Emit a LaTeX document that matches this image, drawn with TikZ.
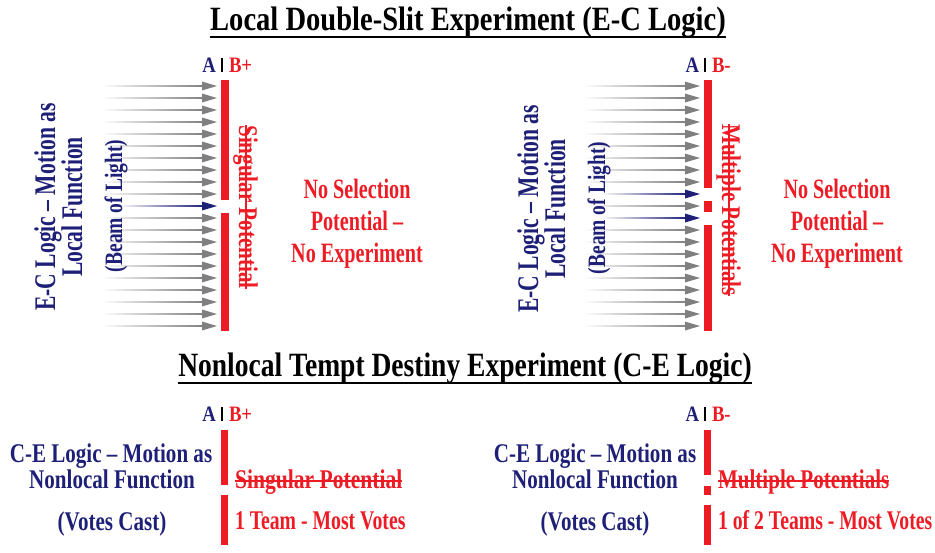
\documentclass[tikz,border=0pt]{standalone}
\usepackage{fontspec}
\setmainfont{Liberation Serif}[BoldFont={Liberation Serif Bold}]
\usepackage{graphicx}
\definecolor{navy}{RGB}{30,32,120}
\definecolor{bred}{RGB}{237,28,36}
\definecolor{agray}{RGB}{128,128,128}
\newcommand\tx[3]{{\fontsize{#1}{#1}\selectfont\bfseries\scalebox{#2}[1]{#3}}}
\newcommand\strk[1]{\setbox0\hbox{#1}\leavevmode\rlap{\rule[0.23em]{\wd0}{1.6pt}}\box0}
\newcommand\beam[4]{%
  \shade[left color=white,right color=#4] (#1,#3-0.8) rectangle (#2-13,#3+0.8);
  \fill[#4] (#2,#3) -- (#2-15,#3-4.5) -- (#2-15,#3+4.5) -- cycle;}
\tikzset{lbl/.style={inner sep=0pt,outer sep=0pt},
  redbar/.style={fill=bred,draw=none},
  sep/.style={line width=1.3pt,black}}
\begin{document}
\begin{tikzpicture}[x=1pt,y=-1pt]
\useasboundingbox (0,0) rectangle (935,552);
% titles
\node[lbl,anchor=base] (t1) at (468,30) {\tx{34}{0.84}{Local Double-Slit Experiment (E-C Logic)}};
\draw[line width=2pt] ([yshift=-7pt]t1.base west) -- ([yshift=-7pt]t1.base east);
\node[lbl,anchor=base] (t2) at (465,376) {\tx{34}{0.81}{Nonlocal Tempt Destiny Experiment (C-E Logic)}};
\draw[line width=2pt] ([yshift=-7pt]t2.base west) -- ([yshift=-7pt]t2.base east);

% ===== top panel 1 =====
\foreach \i in {0,1,2,3,4,5,6,7,8,9,11,12,13,14,15,16,17,18,19,20}{
  \pgfmathsetmacro\yy{86+12*\i}
  \beam{100}{217}{\yy}{agray}}
\beam{118}{217}{206}{navy}
\fill[redbar] (221,80) rectangle (229,199.5);
\fill[redbar] (221,212.5) rectangle (229,331);
\node[lbl,anchor=base east,text=navy] (a1) at (216,72) {\tx{22}{0.85}{A}};
\node[lbl,anchor=base west,text=bred] (b1) at (229,72) {\tx{22}{0.85}{B+}};
\draw[sep] (222,58) -- (222,72);
\node[lbl,anchor=base,text=navy,rotate=90] (l1a) at (55,207) {\tx{30}{0.72}{E-C Logic – Motion as}};
\node[lbl,anchor=base,text=navy,rotate=90] (l1b) at (82,207) {\tx{30}{0.72}{Local Function}};
\node[lbl,anchor=base,text=navy,rotate=90] (l1c) at (122,206) {\tx{25}{0.78}{(Beam of Light)}};
\node[lbl,anchor=base,text=bred,rotate=-90] (s1) at (239,207) {\tx{27}{0.78}{\strk{Singular Potential}}};
\node[lbl,anchor=base,text=bred] (n1a) at (357,198) {\tx{28}{0.72}{No Selection}};
\node[lbl,anchor=base,text=bred] (n1b) at (357,230) {\tx{28}{0.72}{Potential –}};
\node[lbl,anchor=base,text=bred] (n1c) at (357,262) {\tx{28}{0.72}{No Experiment}};

% ===== top panel 2 =====
\foreach \i in {0,1,2,3,4,5,6,7,8,10,12,13,14,15,16,17,18,19,20}{
  \pgfmathsetmacro\yy{86+12*\i}
  \beam{583}{700}{\yy}{agray}}
\beam{601}{700}{194}{navy}
\beam{601}{700}{218}{navy}
\fill[redbar] (704,80) rectangle (712,187.5);
\fill[redbar] (704,200.5) rectangle (712,211.5);
\fill[redbar] (704,224.5) rectangle (712,331);
\node[lbl,anchor=base east,text=navy] (a2) at (699,72) {\tx{22}{0.85}{A}};
\node[lbl,anchor=base west,text=bred] (b2) at (712,72) {\tx{22}{0.85}{B-}};
\draw[sep] (705,58) -- (705,72);
\node[lbl,anchor=base,text=navy,rotate=90] (l2a) at (538,209) {\tx{30}{0.72}{E-C Logic – Motion as}};
\node[lbl,anchor=base,text=navy,rotate=90] (l2b) at (565,209) {\tx{30}{0.72}{Local Function}};
\node[lbl,anchor=base,text=navy,rotate=90] (l2c) at (605,208) {\tx{25}{0.78}{(Beam of Light)}};
\node[lbl,anchor=base,text=bred,rotate=-90] (s2) at (722,210) {\tx{27}{0.78}{\strk{Multiple Potentials}}};
\node[lbl,anchor=base,text=bred] (n2a) at (837,198) {\tx{28}{0.72}{No Selection}};
\node[lbl,anchor=base,text=bred] (n2b) at (837,230) {\tx{28}{0.72}{Potential –}};
\node[lbl,anchor=base,text=bred] (n2c) at (837,262) {\tx{28}{0.72}{No Experiment}};

% ===== bottom panel 1 =====
\node[lbl,anchor=base east,text=navy] (a3) at (216,421) {\tx{22}{0.85}{A}};
\node[lbl,anchor=base west,text=bred] (b3) at (229,421) {\tx{22}{0.85}{B+}};
\draw[sep] (222,407) -- (222,421);
\fill[redbar] (221,430) rectangle (228,485);
\fill[redbar] (221,495) rectangle (228,545);
\node[lbl,anchor=base,text=navy] (c1a) at (111,462) {\tx{27}{0.78}{C-E Logic – Motion as}};
\node[lbl,anchor=base,text=navy] (c1b) at (112,488) {\tx{27}{0.78}{Nonlocal Function}};
\node[lbl,anchor=base,text=navy] (c1c) at (112,530) {\tx{27}{0.78}{(Votes Cast)}};
\node[lbl,anchor=base west,text=bred] (r1a) at (235,488) {\tx{27}{0.8}{\strk{Singular Potential}}};
\node[lbl,anchor=base west,text=bred] (r1b) at (235,529) {\tx{27}{0.73}{1 Team - Most Votes}};

% ===== bottom panel 2 =====
\node[lbl,anchor=base east,text=navy] (a4) at (699,421) {\tx{22}{0.85}{A}};
\node[lbl,anchor=base west,text=bred] (b4) at (712,421) {\tx{22}{0.85}{B-}};
\draw[sep] (705,407) -- (705,421);
\fill[redbar] (704,430) rectangle (711,475);
\fill[redbar] (704,486) rectangle (711,495);
\fill[redbar] (704,505) rectangle (711,545);
\node[lbl,anchor=base,text=navy] (c2a) at (595,462) {\tx{27}{0.78}{C-E Logic – Motion as}};
\node[lbl,anchor=base,text=navy] (c2b) at (595,488) {\tx{27}{0.78}{Nonlocal Function}};
\node[lbl,anchor=base,text=navy] (c2c) at (595,530) {\tx{27}{0.78}{(Votes Cast)}};
\node[lbl,anchor=base west,text=bred] (r2a) at (718,488) {\tx{27}{0.78}{\strk{Multiple Potentials}}};
\node[lbl,anchor=base west,text=bred] (r2b) at (718,529) {\tx{27}{0.73}{1 of 2 Teams - Most Votes}};
\end{tikzpicture}
\end{document}
